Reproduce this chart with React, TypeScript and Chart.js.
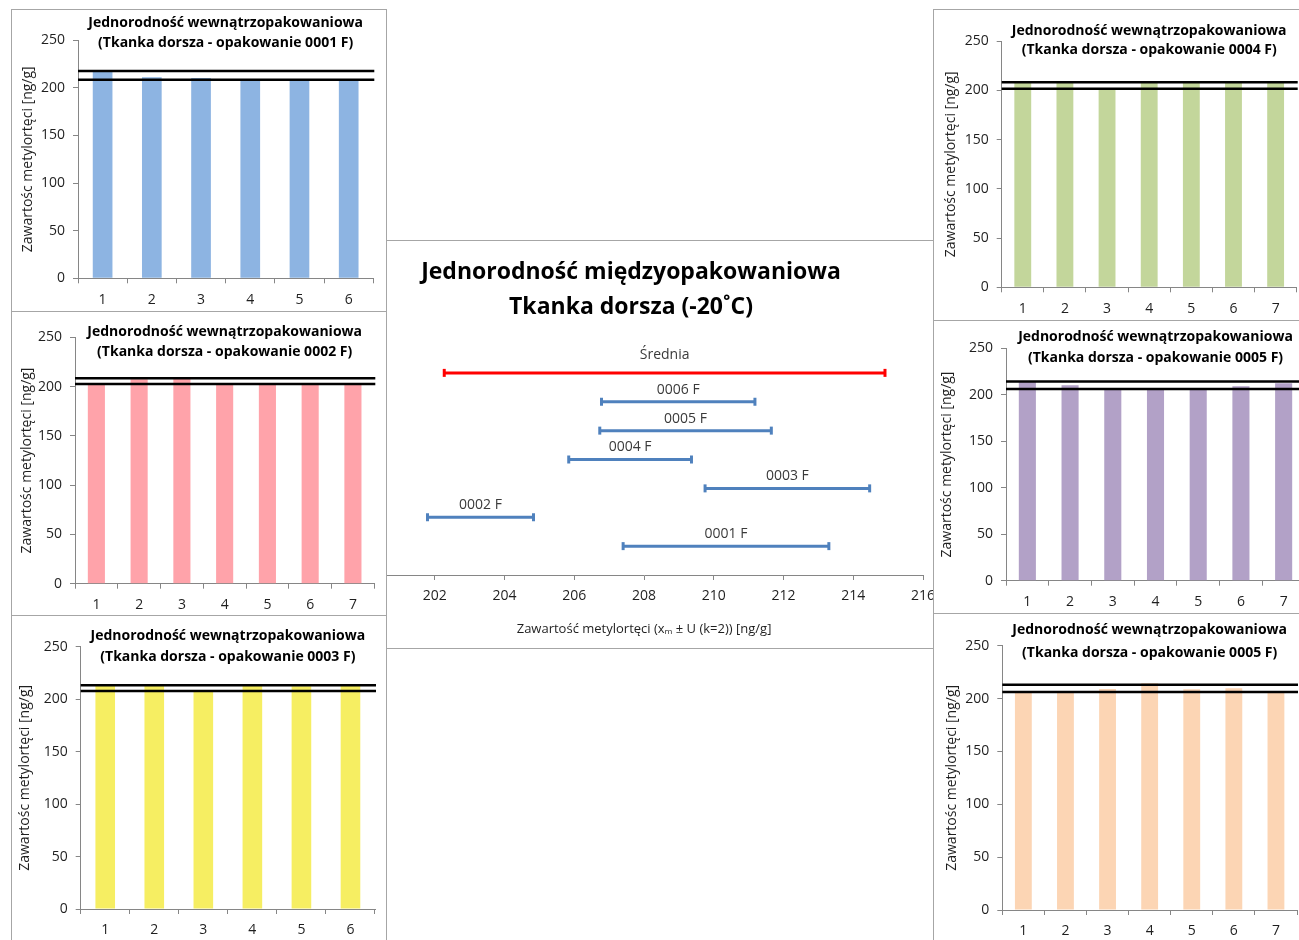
import React, { useEffect, useRef } from "react";
import { Chart, registerables } from "chart.js";

Chart.register(...registerables);

const FONT = "'Open Sans', Lato, 'DejaVu Sans', sans-serif";
const TXT = "#1f1f1f";
const AXIS = "#868686";

// ---- data: within-package homogeneity (sample numbers and results, ng/g) ----
const samples6 = ["1", "2", "3", "4", "5", "6"];
const samples7 = ["1", "2", "3", "4", "5", "6", "7"];

const values0001F = [217.3, 211.3, 210.5, 209.0, 208.5, 208.8];
const limits0001F = [217.7, 208.6];

const values0002F = [202.0, 207.5, 208.5, 203.5, 202.5, 202.0, 202.5];
const limits0002F = [208.4, 202.6];

const values0003F = [213.5, 213.2, 207.8, 213.0, 212.4, 213.3];
const limits0003F = [213.2, 207.8];

const values0004F = [208.0, 207.8, 202.3, 208.2, 208.0, 207.9, 207.7];
const limits0004F = [208.3, 201.8];

const values0005F = [214.0, 210.3, 207.0, 207.2, 206.8, 209.3, 212.3];
const limits0005F = [214.2, 206.3];

const values0005Fb = [206.3, 206.0, 209.1, 214.5, 208.8, 209.7, 206.0];
const limits0005Fb = [213.1, 206.2];

// ---- data: between-package homogeneity (x_m ± U) ----
const packageNames = ["0001 F", "0002 F", "0003 F", "0004 F", "0005 F", "0006 F", "Średnia"];
const packageRows = [1, 2, 3, 4, 5, 6, 7];
const packageMeans = [210.35, 203.31, 212.11, 207.6, 209.19, 208.98, 208.59];
const packageU = [2.95, 1.52, 2.36, 1.76, 2.46, 2.2, 6.32];

const yTitle = "Zawartośc metylortęci [ng/g]";
const panelTitle1 = "Jednorodność wewnątrzopakowaniowa";

type Box = { l: number; t: number; w: number; h: number };
type Plot = { x0: number; top: number; x1: number; bottom: number };
type PanelCfg = {
  name: string;
  labels: string[];
  values: number[];
  limits: number[];
  color: string;
  box: Box;
  plot: Plot;
  yTitleX: number;
  titleY: [number, number];
};

const panels: PanelCfg[] = [
  {
    name: "0001 F", labels: samples6, values: values0001F, limits: limits0001F, color: "#8db4e2",
    box: { l: 11, t: 9, w: 376, h: 303 }, plot: { x0: 78, top: 40.3, x1: 373.3, bottom: 278.3 },
    yTitleX: 28, titleY: [22.7, 43],
  },
  {
    name: "0002 F", labels: samples7, values: values0002F, limits: limits0002F, color: "#ffa3aa",
    box: { l: 11, t: 311, w: 376, h: 305 }, plot: { x0: 75, top: 337.3, x1: 374.3, bottom: 583.7 },
    yTitleX: 27, titleY: [331.7, 351.7],
  },
  {
    name: "0003 F", labels: samples6, values: values0003F, limits: limits0003F, color: "#f6ee62",
    box: { l: 11, t: 615, w: 376, h: 400 }, plot: { x0: 80.7, top: 646.7, x1: 375, bottom: 909 },
    yTitleX: 25.3, titleY: [636, 656.7],
  },
  {
    name: "0004 F", labels: samples7, values: values0004F, limits: limits0004F, color: "#c3d69b",
    box: { l: 933, t: 9, w: 400, h: 312 }, plot: { x0: 1001.7, top: 41.3, x1: 1296.7, bottom: 287.3 },
    yTitleX: 951, titleY: [30.7, 50],
  },
  {
    name: "0005 F", labels: samples7, values: values0005F, limits: limits0005F, color: "#b2a1c7",
    box: { l: 933, t: 320, w: 400, h: 294 }, plot: { x0: 1006, top: 348.3, x1: 1305, bottom: 580.7 },
    yTitleX: 947.5, titleY: [336.7, 358.3],
  },
  {
    name: "0005 F", labels: samples7, values: values0005Fb, limits: limits0005Fb, color: "#fcd5b4",
    box: { l: 933, t: 613, w: 400, h: 400 }, plot: { x0: 1002.3, top: 645.7, x1: 1297, bottom: 910 },
    yTitleX: 952.5, titleY: [630, 652.7],
  },
];

// horizontal reference lines drawn across the plot area at y values
const limitLines = {
  id: "limitLines",
  afterDatasetsDraw(chart: any, _args: any, opts: any) {
    const { ctx, chartArea } = chart;
    const ys = chart.scales.y;
    ctx.save();
    ctx.strokeStyle = "#000";
    ctx.lineWidth = 2.5;
    (opts.values || []).forEach((v: number) => {
      const py = ys.getPixelForValue(v);
      ctx.beginPath();
      ctx.moveTo(chartArea.left, py);
      ctx.lineTo(chartArea.right + 1, py);
      ctx.stroke();
    });
    ctx.restore();
  },
};

function BarPanel({ cfg }: { cfg: PanelCfg }) {
  const ref = useRef<HTMLCanvasElement>(null);
  const cw = cfg.box.w - 2;
  const ch = cfg.box.h - 2;
  useEffect(() => {
    const cl = cfg.box.l + 1;
    const ct = cfg.box.t + 1;
    const YW = cfg.plot.x0 - cl;
    const padR = cl + cw - cfg.plot.x1;
    const XH = ct + ch - cfg.plot.bottom;
    const titleH = cfg.plot.top - ct;
    const lh = cfg.titleY[1] - cfg.titleY[0];
    const tPadTop = cfg.titleY[0] - ct - lh / 2;
    const tPadBottom = titleH - tPadTop - 2 * lh;
    const yTitlePad = cfg.yTitleX - cl - (14 * 1.2) / 2;
    const chart = new Chart(ref.current as HTMLCanvasElement, {
      type: "bar",
      data: {
        labels: cfg.labels,
        datasets: [
          {
            data: cfg.values,
            backgroundColor: cfg.color,
            barPercentage: 0.4,
            categoryPercentage: 1,
          },
        ],
      },
      options: {
        responsive: false,
        animation: false,
        layout: { padding: { left: 0, right: padR, top: 0, bottom: 0 } },
        plugins: {
          legend: { display: false },
          tooltip: { enabled: false },
          limitLines: { values: cfg.limits },
          title: {
            display: true,
            fullSize: false,
            text: [panelTitle1, `(Tkanka dorsza - opakowanie ${cfg.name})`],
            color: "#000",
            font: { family: FONT, size: 14, weight: "bold", lineHeight: lh / 14 },
            padding: { top: tPadTop, bottom: tPadBottom },
          },
        },
        scales: {
          x: {
            type: "category",
            offset: true,
            grid: { display: true, drawOnChartArea: false, drawTicks: true, tickLength: 5, color: AXIS, offset: true },
            border: { display: true, color: AXIS },
            ticks: { font: { family: FONT, size: 14 }, color: TXT, padding: 8 },
            afterFit: (s: any) => { s.height = XH; },
          },
          y: {
            min: 0,
            max: 250,
            ticks: { stepSize: 50, font: { family: FONT, size: 14 }, color: TXT, padding: 8 },
            grid: { display: true, drawOnChartArea: false, drawTicks: true, tickLength: 5, color: AXIS },
            border: { display: true, color: AXIS },
            title: {
              display: true,
              text: yTitle,
              color: TXT,
              font: { family: FONT, size: 14 },
              padding: { top: yTitlePad, bottom: 0 },
            },
            afterFit: (s: any) => { s.width = YW; },
          },
        },
      } as any,
      plugins: [limitLines],
    });
    return () => chart.destroy();
  }, []);
  return (
    <div
      style={{
        position: "absolute",
        left: cfg.box.l,
        top: cfg.box.t,
        width: cfg.box.w,
        height: cfg.box.h,
        border: "1px solid #a6a6a6",
        boxSizing: "border-box",
        background: "#fff",
        overflow: "hidden",
        zIndex: 2,
      }}
    >
      <canvas ref={ref} width={cw} height={ch} style={{ display: "block", width: cw, height: ch }} />
    </div>
  );
}

const centerBox: Box = { l: 300, t: 240, w: 680, h: 409 };
const centerPlot: Plot = { x0: 365.1, top: 344, x1: 923, bottom: 575 };
const centerTitleX = 631;
const centerTitleY: [number, number] = [272, 307];
const centerAxisTitleY = 629;

const intervalLabels = {
  id: "intervalLabels",
  afterDatasetsDraw(chart: any) {
    const { ctx } = chart;
    const xs = chart.scales.x;
    const ys = chart.scales.y;
    ctx.save();
    ctx.font = `14px ${FONT}`;
    ctx.fillStyle = "#3a3a3a";
    ctx.textAlign = "center";
    ctx.textBaseline = "middle";
    chart.data.datasets.forEach((ds: any, i: number) => {
      const px = xs.getPixelForValue(packageMeans[i]);
      const py = ys.getPixelForValue(packageRows[i]) - (ds.labelGap ?? 11);
      ctx.fillText(ds.label, px, py);
    });
    ctx.restore();
  },
};

function CenterChart() {
  const ref = useRef<HTMLCanvasElement>(null);
  const cw = centerBox.w - 2;
  const ch = centerBox.h - 2;
  useEffect(() => {
    const cl = centerBox.l + 1;
    const ct = centerBox.t + 1;
    const padR = cl + cw - centerPlot.x1;
    const padL = 2 * (centerTitleX - cl) - (cw - padR);
    const YW = centerPlot.x0 - cl - padL;
    const XH = ct + ch - centerPlot.bottom;
    const lh = centerTitleY[1] - centerTitleY[0];
    const titleH = centerPlot.top - ct;
    const tPadTop = centerTitleY[0] - ct - lh / 2;
    const tPadBottom = titleH - tPadTop - 2 * lh;
    const axTitlePad = ct + ch - centerAxisTitleY - (13 * 1.2) / 2;
    const chart = new Chart(ref.current as HTMLCanvasElement, {
      type: "scatter",
      data: {
        datasets: packageNames.map((name, i) => {
          const c = name === "Średnia" ? "#ff0000" : "#4f81bd";
          return {
            label: name,
            labelGap: name === "Średnia" ? 18 : 12,
            data: [
              { x: packageMeans[i] - packageU[i], y: packageRows[i] },
              { x: packageMeans[i] + packageU[i], y: packageRows[i] },
            ],
            showLine: true,
            borderColor: c,
            borderWidth: 3,
            pointStyle: "line",
            pointRadius: 4,
            pointRotation: 90,
            pointBorderWidth: 3,
            pointBorderColor: c,
            pointBackgroundColor: c,
          };
        }),
      },
      options: {
        responsive: false,
        animation: false,
        layout: { padding: { left: padL, right: padR, top: 0, bottom: 0 } },
        plugins: {
          legend: { display: false },
          tooltip: { enabled: false },
          title: {
            display: true,
            text: ["Jednorodność międzyopakowaniowa", "Tkanka dorsza (-20˚C)"],
            color: "#000",
            font: { family: FONT, size: 23, weight: "bold", lineHeight: lh / 23 },
            padding: { top: tPadTop, bottom: tPadBottom },
          },
        },
        scales: {
          x: {
            type: "linear",
            min: 200,
            max: 216,
            ticks: { stepSize: 2, font: { family: FONT, size: 14 }, color: TXT, padding: 8 },
            grid: { display: true, drawOnChartArea: false, drawTicks: true, tickLength: 5, color: AXIS },
            border: { display: true, color: AXIS },
            title: {
              display: true,
              text: "Zawartość metylortęci (xₘ ± U (k=2)) [ng/g]",
              color: TXT,
              font: { family: FONT, size: 13 },
              padding: { top: 0, bottom: axTitlePad },
            },
            afterFit: (s: any) => { s.height = XH; },
          },
          y: {
            type: "linear",
            min: 0,
            max: 8,
            ticks: { display: false },
            grid: { display: false },
            border: { display: false },
            afterFit: (s: any) => { s.width = YW; },
          },
        },
      } as any,
      plugins: [intervalLabels],
    });
    return () => chart.destroy();
  }, []);
  return (
    <div
      style={{
        position: "absolute",
        left: centerBox.l,
        top: centerBox.t,
        width: centerBox.w,
        height: centerBox.h,
        border: "1px solid #a6a6a6",
        boxSizing: "border-box",
        background: "#fff",
        zIndex: 1,
      }}
    >
      <canvas ref={ref} width={cw} height={ch} style={{ display: "block", width: cw, height: ch }} />
    </div>
  );
}

export default function App() {
  return (
    <div
      style={{
        position: "fixed",
        left: 0,
        top: 0,
        width: 1299,
        height: 940,
        overflow: "hidden",
        background: "#fff",
        fontFamily: FONT,
      }}
    >
      <CenterChart />
      {panels.map((p, i) => (
        <BarPanel key={i} cfg={p} />
      ))}
    </div>
  );
}
